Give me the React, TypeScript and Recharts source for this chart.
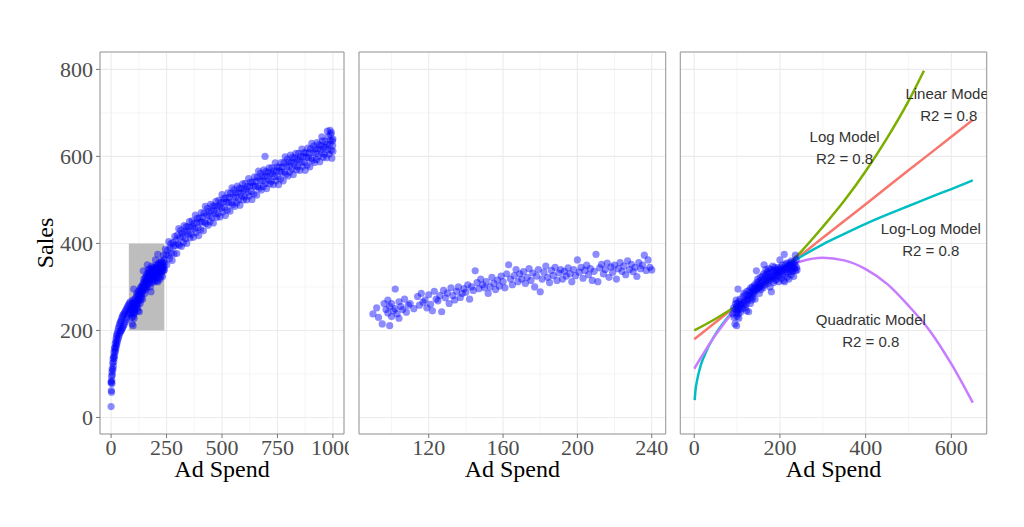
import React from 'react';
import {
  ScatterChart,
  ComposedChart,
  Scatter,
  Line,
  XAxis,
  YAxis,
  CartesianGrid,
  ReferenceArea,
} from 'recharts';

// full range sample (outside the zoom window)
const wideSpend = [
  0, 0, 1, 1, 2, 2, 3, 4, 4, 5, 6, 7, 8, 9, 10, 11, 12, 13, 14, 15, 16, 17, 18, 19, 20, 21, 22, 23, 24, 25,
  26, 27, 28, 30, 31, 33, 34, 36, 37, 39, 40, 42, 43, 45, 46, 48, 49, 51, 52, 54, 56, 58, 60, 62, 64, 66, 68,
  70, 72, 74, 76, 78, 80, 82, 84, 86, 88,
  242, 245, 248, 251, 254, 257, 260, 263, 266, 269, 272, 275, 278, 281, 284, 287, 290, 293, 296, 299,
  302, 305, 308, 311, 314, 317, 320, 323, 326, 329, 332, 335, 338, 341, 344, 347, 350, 353, 356, 359,
  362, 365, 368, 371, 374, 377, 380, 383, 386, 389, 392, 395, 398, 401, 404, 407, 410, 413, 416, 419,
  422, 425, 428, 431, 434, 437, 440, 443, 446, 449, 452, 455, 458, 461, 464, 467, 470, 473, 476, 479,
  482, 485, 488, 491, 494, 497, 500, 503, 506, 509, 512, 515, 518, 521, 524, 527, 530, 533, 536, 539,
  542, 545, 548, 551, 554, 557, 560, 563, 566, 569, 572, 575, 578, 581, 584, 587, 590, 593, 596, 599,
  602, 605, 608, 611, 614, 617, 620, 623, 626, 629, 632, 635, 638, 641, 644, 647, 650, 653, 656, 659,
  662, 665, 668, 671, 674, 677, 680, 683, 686, 689, 692, 695, 698, 701, 704, 707, 710, 713, 716, 719,
  722, 725, 728, 731, 734, 737, 740, 743, 746, 749, 752, 755, 758, 761, 764, 767, 770, 773, 776, 779,
  782, 785, 788, 791, 794, 797, 800, 803, 806, 809, 812, 815, 818, 821, 824, 827, 830, 833, 836, 839,
  842, 845, 848, 851, 854, 857, 860, 863, 866, 869, 872, 875, 878, 881, 884, 887, 890, 893, 896, 899,
  902, 905, 908, 911, 914, 917, 920, 923, 926, 929, 932, 935, 938, 941, 944, 947, 950, 953, 956, 959,
  962, 965, 968, 971, 974, 977, 980, 983, 986, 989, 992, 995, 998,
  694, 975, 987, 993, 999, 1000, 950, 1000, 990,
];
const wideSales = [
  25, 80, 62, 82, 58, 95, 85, 105, 78, 112, 98, 125, 110, 135, 118, 140, 128, 150, 136, 158, 142, 162, 150, 170,
  155, 175, 160, 182, 166, 188, 170, 192, 175, 198, 180, 205, 185, 210, 190, 215, 195, 220, 198, 222, 200, 228,
  204, 232, 206, 236, 210, 238, 215, 242, 220, 246, 225, 250, 230, 254, 236, 258, 240, 262, 245, 266, 248,
  356, 387, 374, 351, 384, 372, 404, 365, 389, 399, 378, 361, 402, 393, 376, 416, 395, 408, 377, 419,
  399, 434, 396, 414, 430, 393, 424, 415, 402, 441, 427, 411, 438, 400, 427, 439, 422, 450, 413, 437,
  421, 452, 438, 414, 447, 434, 465, 425, 448, 458, 436, 418, 458, 449, 432, 471, 449, 461, 429, 470,
  449, 485, 446, 464, 480, 442, 473, 463, 450, 490, 475, 459, 486, 447, 475, 486, 469, 497, 460, 484,
  468, 499, 485, 461, 494, 481, 512, 472, 495, 504, 482, 464, 504, 495, 477, 516, 494, 506, 474, 515,
  493, 528, 489, 507, 523, 485, 516, 506, 493, 532, 517, 500, 527, 488, 515, 526, 509, 537, 500, 523,
  507, 538, 524, 500, 531, 518, 549, 509, 532, 541, 519, 501, 541, 532, 514, 553, 531, 543, 511, 552,
  531, 566, 527, 545, 561, 523, 554, 544, 531, 569, 554, 538, 565, 526, 553, 564, 546, 574, 537, 560,
  543, 574, 560, 535, 567, 554, 585, 544, 567, 576, 553, 535, 575, 566, 548, 586, 564, 576, 544, 585,
  564, 599, 559, 577, 593, 555, 587, 577, 564, 603, 587, 571, 598, 558, 585, 596, 579, 607, 569, 592,
  576, 607, 592, 568, 600, 587, 617, 577, 600, 609, 586, 568, 608, 598, 580, 619, 597, 608, 576, 617,
  595, 630, 591, 609, 624, 586, 617, 607, 593, 632, 617, 600, 627, 588, 615, 625, 608, 636, 598, 621,
  605, 635, 621, 597, 628, 615, 646, 605, 628, 637, 614, 596, 636,
  600, 658, 660, 655, 625, 612, 645, 640, 650,
];

// zoom window sample (ad spend 90 - 240)
const zoomSpend = [
  90, 92, 93, 95, 96, 97, 98, 98, 99, 99, 100, 100, 101, 102, 102, 103, 104, 104, 105, 106, 107, 108, 109, 110, 112,
  114, 115, 116, 117, 118, 119, 120, 121, 122, 123, 124, 125, 126, 127, 128, 129, 130, 131, 132, 133, 134, 135, 136,
  137, 138, 139, 140, 141, 142, 143, 144, 145, 146, 147, 148, 149, 150, 151, 152, 153, 154, 155, 156, 157, 158, 159,
  160, 161, 162, 163, 164, 165, 166, 167, 168, 169, 170, 171, 172, 173, 174, 175, 176, 177, 178, 179, 180, 181, 182,
  183, 184, 185, 186, 187, 188, 189, 190, 191, 192, 193, 194, 195, 196, 197, 198, 199, 200, 201, 202, 203, 204, 205,
  206, 207, 208, 209, 210, 211, 212, 213, 214, 215, 216, 217, 218, 219, 220, 221, 222, 223, 224, 225, 226, 227, 228,
  229, 230, 231, 232, 233, 234, 235, 236, 237, 238, 239, 240,
];
const zoomSales = [
  238, 252, 230, 215, 262, 248, 240, 270, 211, 255, 232, 262, 245, 295, 250, 238, 266, 228, 255, 248, 272, 242, 258,
  262, 250, 278, 258, 285, 265, 270, 252, 282, 260, 245, 290, 272, 268, 280, 243, 292, 275, 286, 262, 298, 280, 270,
  290, 300, 276, 285, 296, 288, 305, 272, 300, 292, 337, 310, 296, 318, 305, 298, 312, 285, 300, 322, 308, 294, 316,
  302, 325, 312, 298, 330, 351, 318, 305, 326, 340, 312, 330, 318, 335, 308, 322, 342, 315, 332, 300, 325, 340, 289,
  318, 334, 348, 322, 310, 338, 326, 345, 315, 332, 340, 318, 336, 325, 344, 330, 312, 340, 326, 362, 334, 345, 320,
  338, 350, 328, 342, 315, 336, 375, 312, 344, 352, 330, 340, 355, 322, 346, 334, 350, 318, 342, 356, 336, 348, 328,
  360, 340, 352, 335, 345, 324, 356, 342, 350, 373, 338, 362, 345, 339,
];

// fitted model curves
const linearSpend = [0, 100, 200, 300, 400, 500, 600, 650];
const linearSales = [180, 258, 335, 413, 490, 568, 645, 684];
const logSpend = [0, 50, 100, 150, 200, 250, 300, 350, 400, 450, 500, 536];
const logSales = [200, 227, 258, 294, 335, 382, 438, 498, 566, 642, 727, 797];
const loglogSpend = [1, 3, 7, 15, 30, 50, 75, 100, 150, 200, 250, 300, 350, 400, 450, 500, 550, 600, 650];
const loglogSales = [40, 63, 87, 119, 156, 192, 226, 254, 300, 338, 370, 398, 422, 445, 466, 486, 506, 525, 545];
const quadSpend = [0, 50, 100, 150, 200, 250, 300, 350, 400, 450, 500, 550, 600, 650];
const quadSales = [112, 190, 253, 302, 338, 359, 367, 361, 341, 307, 257, 199, 123, 34];

const modelNames = ['Linear Model', 'Log Model', 'Log-Log Model', 'Quadratic Model'];
const modelR2 = ['R2 = 0.8', 'R2 = 0.8', 'R2 = 0.8', 'R2 = 0.8'];
const labelSpend = [594, 351, 552, 412];
const labelSales = [719, 620, 410, 200];

const yDomain = [-38, 840];
const yMajor = [0, 200, 400, 600, 800];
const yMinor = [100, 300, 500, 700];
const x1Domain = [-50, 1050];
const x1Major = [0, 250, 500, 750, 1000];
const x1Minor = [125, 375, 625, 875];
const x2Domain = [82.5, 247.5];
const x2Major = [120, 160, 200, 240];
const x2Minor = [100, 140, 180, 220];
const x3Domain = [-32.5, 682.5];
const x3Major = [0, 200, 400, 600];
const x3Minor = [100, 300, 500];
const boxSpend = [80, 240];
const boxSales = [200, 400];

const toPoints = (xs: number[], ys: number[]) => xs.map((x, i) => ({ x, y: ys[i] }));

const widePoints = [...toPoints(wideSpend, wideSales), ...toPoints(zoomSpend, zoomSales)];
const zoomPoints = toPoints(zoomSpend, zoomSales);
const labelPoints = labelSpend.map((x, i) => ({ x, y: labelSales[i], name: modelNames[i], r2: modelR2[i] }));

const SERIF = '"Liberation Serif", "Times New Roman", serif';
const SANS = '"Liberation Sans", Arial, sans-serif';
const tickStyle = { fill: '#4d4d4d', fontSize: 22, fontFamily: SERIF };

const Dot = (props: any) => (
  <circle cx={props.cx} cy={props.cy} r={3.6} fill="#0000ff" fillOpacity={0.45} />
);

const ModelLabel = (props: any) => {
  const { cx, cy, payload } = props;
  return (
    <text textAnchor="middle" fontFamily={SANS} fontSize={15} fill="#333">
      <tspan x={cx} y={cy - 5.5}>{payload.name}</tspan>
      <tspan x={cx} y={cy + 16.5}>{payload.r2}</tspan>
    </text>
  );
};

function grid(xDomain: number[], xMinor: number[]) {
  return [
    <XAxis key="mx" xAxisId="minor" type="number" dataKey="x" domain={xDomain} ticks={xMinor} hide allowDataOverflow />,
    <YAxis key="my" yAxisId="minor" type="number" dataKey="y" domain={yDomain} ticks={yMinor} hide allowDataOverflow />,
    <CartesianGrid key="g1" xAxisId="minor" yAxisId="minor" stroke="#f0f0f0" strokeWidth={0.7} />,
    <CartesianGrid key="g2" stroke="#ebebeb" strokeWidth={1.1} />,
  ];
}

function xAxis(domain: number[], ticks: number[]) {
  return (
    <XAxis
      type="number"
      dataKey="x"
      domain={domain}
      ticks={ticks}
      interval={0}
      allowDataOverflow
      height={30}
      tickSize={4}
      tickMargin={1}
      axisLine={false}
      tickLine={{ stroke: '#777' }}
      tick={tickStyle}
    />
  );
}

function border(domain: number[]) {
  return (
    <ReferenceArea
      x1={domain[0]}
      x2={domain[1]}
      y1={yDomain[0]}
      y2={yDomain[1]}
      fill="none"
      stroke="#999"
      strokeWidth={1}
    />
  );
}

export default function App() {
  return (
    <div style={{ position: 'absolute', left: 0, top: 0, width: 1024, height: 527, background: '#fff' }}>
      <div style={{ position: 'absolute', left: 0, top: 0, width: 349, height: 527, overflow: 'hidden' }}>
        <ScatterChart width={349} height={527} margin={{ top: 52, right: 5, bottom: 63, left: 40 }}>
          {grid(x1Domain, x1Minor)}
          {xAxis(x1Domain, x1Major)}
          <YAxis
            type="number"
            dataKey="y"
            domain={yDomain}
            ticks={yMajor}
            interval={0}
            allowDataOverflow
            width={60}
            tickSize={4}
            tickMargin={3}
            axisLine={false}
            tickLine={{ stroke: '#777' }}
            tick={tickStyle}
          />
          <ReferenceArea
            x1={boxSpend[0]}
            x2={boxSpend[1]}
            y1={boxSales[0]}
            y2={boxSales[1]}
            fill="#bdbdbd"
            fillOpacity={1}
            stroke="none"
          />
          <Scatter data={widePoints} shape={Dot} isAnimationActive={false} />
          {border(x1Domain)}
        </ScatterChart>
      </div>

      <div style={{ position: 'absolute', left: 349, top: 0, width: 322, height: 527, overflow: 'hidden' }}>
        <ScatterChart width={322} height={527} margin={{ top: 52, right: 5.3, bottom: 63, left: 10 }}>
          {grid(x2Domain, x2Minor)}
          {xAxis(x2Domain, x2Major)}
          <YAxis type="number" dataKey="y" domain={yDomain} ticks={yMajor} hide allowDataOverflow />
          <Scatter data={zoomPoints} shape={Dot} isAnimationActive={false} />
          {border(x2Domain)}
        </ScatterChart>
      </div>

      <div style={{ position: 'absolute', left: 673, top: 0, width: 315, height: 527, overflow: 'hidden' }}>
        <ComposedChart width={315} height={527} margin={{ top: 52, right: 1.3, bottom: 63, left: 7.3 }}>
          {grid(x3Domain, x3Minor)}
          {xAxis(x3Domain, x3Major)}
          <YAxis type="number" dataKey="y" domain={yDomain} ticks={yMajor} hide allowDataOverflow />
          <Line data={toPoints(linearSpend, linearSales)} dataKey="y" type="monotone" stroke="#F8766D" strokeWidth={2.5} dot={false} isAnimationActive={false} />
          <Line data={toPoints(logSpend, logSales)} dataKey="y" type="monotone" stroke="#7CAE00" strokeWidth={2.5} dot={false} isAnimationActive={false} />
          <Line data={toPoints(loglogSpend, loglogSales)} dataKey="y" type="monotone" stroke="#00BFC4" strokeWidth={2.5} dot={false} isAnimationActive={false} />
          <Line data={toPoints(quadSpend, quadSales)} dataKey="y" type="monotone" stroke="#C77CFF" strokeWidth={2.5} dot={false} isAnimationActive={false} />
          <Scatter data={zoomPoints} shape={Dot} isAnimationActive={false} />
          <Scatter data={labelPoints} shape={ModelLabel} isAnimationActive={false} />
          {border(x3Domain)}
        </ComposedChart>
      </div>

      <svg width={1024} height={527} style={{ position: 'absolute', left: 0, top: 0, pointerEvents: 'none' }}>
        <text x={222} y={477} textAnchor="middle" fontFamily={SERIF} fontSize={24} fill="#000">Ad Spend</text>
        <text x={512.3} y={477} textAnchor="middle" fontFamily={SERIF} fontSize={24} fill="#000">Ad Spend</text>
        <text x={833.5} y={477} textAnchor="middle" fontFamily={SERIF} fontSize={24} fill="#000">Ad Spend</text>
        <text transform="translate(53,243) rotate(-90)" textAnchor="middle" fontFamily={SERIF} fontSize={24} fill="#000">Sales</text>
      </svg>
    </div>
  );
}
